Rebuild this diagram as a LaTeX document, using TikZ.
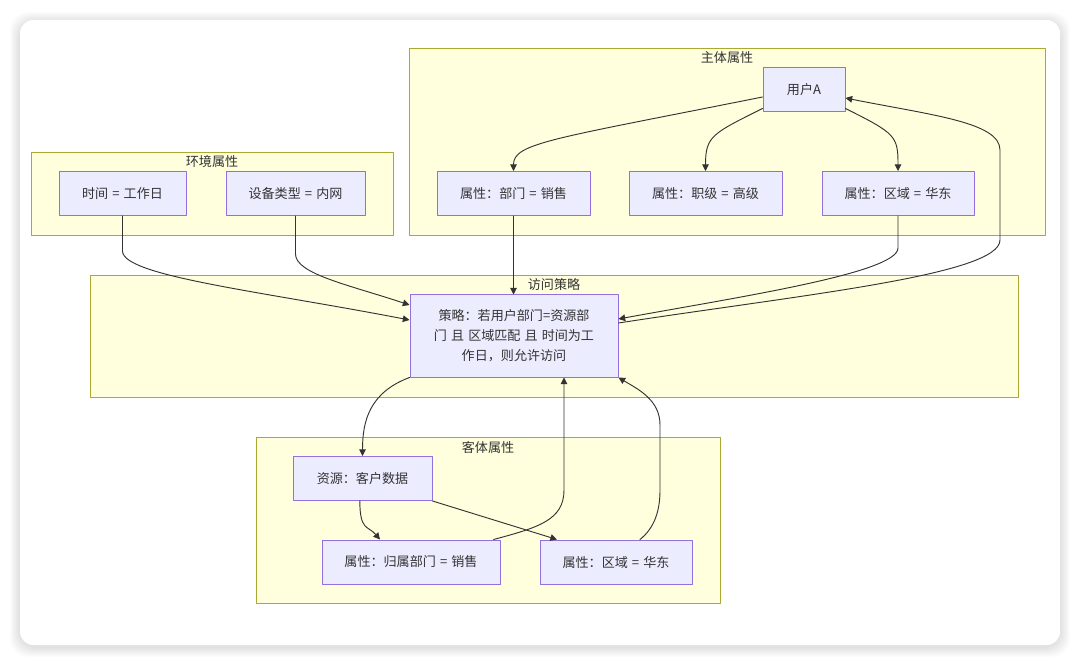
\documentclass[tikz,border=0pt]{standalone}
\usepackage{fontspec}
\setmainfont[WordSpace=1.4]{Noto Sans CJK SC}
\usetikzlibrary{arrows.meta}
\definecolor{clfill}{HTML}{FFFFDE}
\definecolor{cldraw}{HTML}{AAAA33}
\definecolor{nfill}{HTML}{ECECFF}
\definecolor{ndraw}{HTML}{9370DB}
\definecolor{edgec}{HTML}{333333}
\tikzset{
	box/.style={draw=ndraw, fill=nfill, line width=0.75pt, minimum height=33pt, inner sep=2pt, text=edgec, align=center, font=\fontsize{9.8}{15}\selectfont},
	cluster/.style={draw=cldraw, fill=clfill, line width=0.6pt},
	clabel/.style={text=edgec, font=\fontsize{9.8}{12}\selectfont},
	arr/.style={->, draw=edgec, line width=0.7pt}
}
\begin{document}
\begin{tikzpicture}[x=0.75pt, y=-0.75pt, line join=round, line cap=round, >={Triangle[length=5pt,width=5pt]}]
	\useasboundingbox (0,0) rectangle (1080,666);
	% card with soft shadow
	\foreach \i in {1,...,10}
		\fill[black, opacity=0.012, rounded corners=14pt] (20-\i,22-\i) rectangle (1060+\i,647+\i);
	\fill[white, rounded corners=10pt] (20,20) rectangle (1060,645);
	% groups
	\draw[cluster] (409,48) rectangle (1045,235);
	\node[clabel] (lsubj) at (727,58) {主体属性};
	\draw[cluster] (31,152) rectangle (393,235);
	\node[clabel] (lenv) at (212,162) {环境属性};
	\draw[cluster] (90,275) rectangle (1018,397);
	\node[clabel] (lpol) at (554,285) {访问策略};
	\draw[cluster] (256,437) rectangle (720,603);
	\node[clabel] (lobj) at (488,447) {客体属性};
	% nodes
	\node[box, minimum width=61.5pt] (ua) at (804,90) {用户A};
	\node[box, minimum width=114.75pt] (dept) at (513.5,193.5) {属性：部门 = 销售};
	\node[box, minimum width=114.75pt] (rank) at (705.5,193.5) {属性：职级 = 高级};
	\node[box, minimum width=114pt] (regs) at (898,193.5) {属性：区域 = 华东};
	\node[box, minimum width=95.25pt] (time) at (122.5,193.5) {时间 = 工作日};
	\node[box, minimum width=104.25pt] (dev) at (295.5,193.5) {设备类型 = 内网};
	\node[box, minimum width=156pt, minimum height=61.5pt] (pol) at (514,336) {策略：若用户部门=资源部\\门 且 区域匹配 且 时间为工\\作日，则允许访问};
	\node[box, minimum width=104.25pt] (res) at (362.5,478.5) {资源：客户数据};
	\node[box, minimum width=133.5pt] (own) at (411,562) {属性：归属部门 = 销售};
	\node[box, minimum width=114pt] (rego) at (616,562) {属性：区域 = 华东};
	% subject
	\draw[arr] (ua.west) ++(0,7) .. controls +(-210,42) and +(0,-28) .. (dept.north);
	\draw[arr] (ua.south west) ++(0,-4) .. controls +(-50,25) and +(0,-35) .. (rank.north);
	\draw[arr] (ua.south east) ++(0,-4) .. controls +(50,25) and +(0,-35) .. (regs.north);
	\draw[arr] (dept.south) -- (dept.south |- pol.north);
	\draw[arr] (regs.south) -- ++(0,32) .. controls +(0,25) and +(120,-22) .. ([yshift=12.75pt]pol.east);
	\draw[arr] ([yshift=9.75pt]pol.east) .. controls (800,295) and (1000,275) .. (1000,240) -- (1000,150) .. controls (1000,122) and (930,115) .. ([yshift=-6pt]ua.east);
	% environment
	\draw[arr] (time.south) -- ++(0,35) .. controls +(0,25) and +(-150,-29) .. ([yshift=12pt]pol.west);
	\draw[arr] (dev.south) -- ++(0,38) .. controls +(0,20) and +(-60,-20) .. ([yshift=23.25pt]pol.west);
	% object
	\draw[arr] (pol.south west) .. controls +(-40,15) and +(0,-35) .. (res.north);
	\draw[arr] ([xshift=-2pt]res.south) .. controls +(0,30) and +(-12,-14) .. ([xshift=-23.25pt]own.north);
	\draw[arr] (res.south east) -- ([xshift=-44.25pt]rego.north);
	\draw[arr] ([xshift=-5.25pt]own.north east) .. controls +(45,-12) and +(0,30) .. (564,490) -- ([xshift=37.5pt]pol.south);
	\draw[arr] ([xshift=18pt]rego.north) .. controls +(15,-12) and +(0,20) .. (660,490) -- (660,425) .. controls +(0,-25) and +(20,12) .. (pol.south east);
\end{tikzpicture}
\end{document}
